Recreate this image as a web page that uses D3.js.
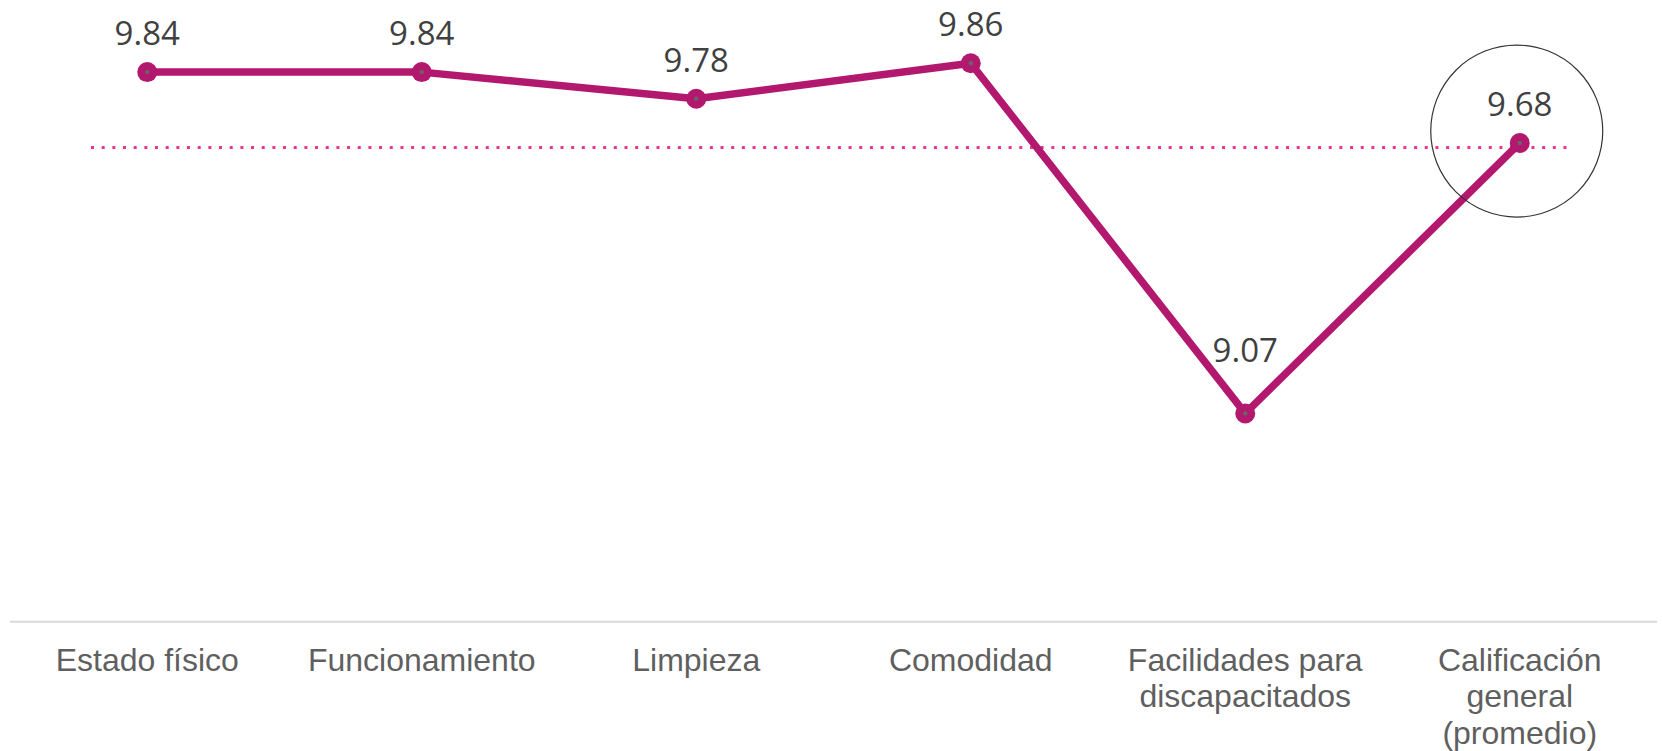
<!DOCTYPE html>
<html>
<head>
<meta charset="utf-8">
<script src="https://cdn.jsdelivr.net/npm/d3@7"></script>
<style>
  body { margin: 0; background: #fff; }
  svg { display: block; }
  .cat { font-family: "Liberation Sans", Arial, sans-serif; font-size: 32px; fill: #5f5f5f; }
  .val { font-family: "Open Sans", sans-serif; font-size: 33px; fill: #404040; }
</style>
</head>
<body>
<script>
const categories = [
  "Estado físico",
  "Funcionamiento",
  "Limpieza",
  "Comodidad",
  "Facilidades para|discapacitados",
  "Calificación|general|(promedio)"
];
const scores = [9.84, 9.84, 9.78, 9.86, 9.07, 9.68];
const referenceLine = 9.67;
const yDomain = [8.6, 10];

const width = 1662;
const height = 751;

const lineColor = "#b3186f";

const svg = d3.select("body")
  .append("svg")
  .attr("width", width)
  .attr("height", height);

const x = d3.scalePoint()
  .domain(categories)
  .range([10, 1657])
  .padding(0.5);

const y = d3.scaleLinear()
  .domain(yDomain)
  .range([621.7, 1.2]);

// bottom axis line
svg.append("line")
  .attr("x1", 10)
  .attr("x2", 1657)
  .attr("y1", y(yDomain[0]))
  .attr("y2", y(yDomain[0]))
  .attr("stroke", "#d9d9d9")
  .attr("stroke-width", 2);

// category labels (multi-line)
const cats = svg.append("g")
  .selectAll("text")
  .data(categories)
  .join("text")
  .attr("class", "cat")
  .attr("text-anchor", "middle")
  .attr("x", (d) => x(d))
  .attr("y", y(yDomain[0]) + 49);

cats.selectAll("tspan")
  .data((d) => d.split("|").map((t) => ({ t, c: d })))
  .join("tspan")
  .attr("x", (d) => x(d.c))
  .attr("dy", (d, i) => (i === 0 ? 0 : 36.4))
  .text((d) => d.t);

// dotted reference line
svg.append("line")
  .attr("x1", 91)
  .attr("x2", 1567)
  .attr("y1", y(referenceLine))
  .attr("y2", y(referenceLine))
  .attr("stroke", "#e8358f")
  .attr("stroke-width", 3)
  .attr("stroke-dasharray", "3 7.67");

// score line
const line = d3.line()
  .x((d, i) => x(categories[i]))
  .y((d) => y(d));

svg.append("path")
  .datum(scores)
  .attr("d", line)
  .attr("fill", "none")
  .attr("stroke", lineColor)
  .attr("stroke-width", 7.5)
  .attr("stroke-linejoin", "round");

// markers
const pts = svg.append("g")
  .selectAll("g")
  .data(scores)
  .join("g")
  .attr("transform", (d, i) => `translate(${x(categories[i])},${y(d)})`);

pts.append("circle").attr("r", 10).attr("fill", lineColor);
pts.append("circle").attr("r", 2.2).attr("fill", "#666");

// value labels
svg.append("g")
  .selectAll("text")
  .data(scores)
  .join("text")
  .attr("class", "val")
  .attr("text-anchor", "middle")
  .attr("x", (d, i) => x(categories[i]))
  .attr("y", (d, i) => y(d) - (i === 4 ? 51.6 : 27))
  .text((d) => d.toFixed(2));

// highlight circle around overall score
const last = scores.length - 1;
svg.append("circle")
  .attr("cx", x(categories[last]) - 3)
  .attr("cy", y(scores[last]) - 12)
  .attr("r", 86)
  .attr("fill", "none")
  .attr("stroke", "#333")
  .attr("stroke-width", 1.2);
</script>
</body>
</html>
